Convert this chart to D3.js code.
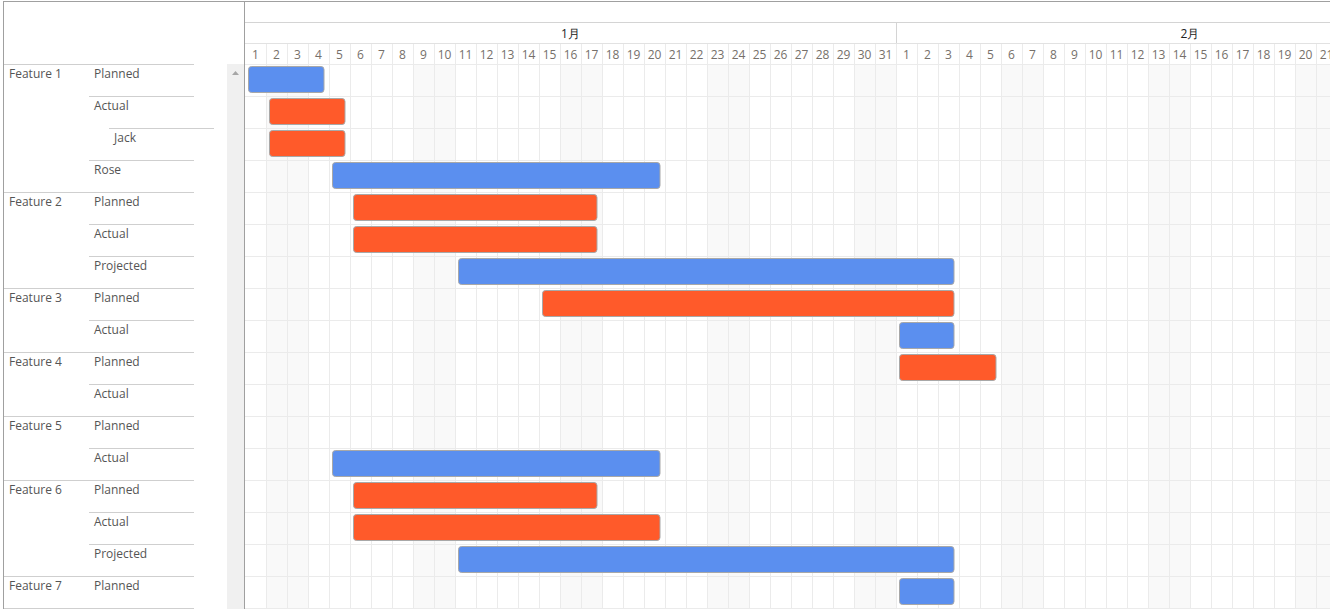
<!DOCTYPE html>
<html><head><meta charset="utf-8">
<script src="https://cdn.jsdelivr.net/npm/d3@7"></script>
<style>
html,body{margin:0;padding:0;background:#fff;overflow:hidden}
svg{display:block;font-family:"Open Sans",sans-serif}
</style></head>
<body>
<svg id="c" width="1330" height="609"></svg>
<script>
// ---- data ----
const features = ["Feature 1","","","","Feature 2","","","Feature 3","","Feature 4","","Feature 5","","Feature 6","","","Feature 7"];
const rowLabels = ["Planned","Actual","Jack","Rose","Planned","Actual","Projected","Planned","Actual","Planned","Actual","Planned","Actual","Planned","Actual","Projected","Planned"];
const rowLevel  = [1,1,2,1,1,1,1,1,1,1,1,1,1,1,1,1,1];
const barStart  = ["2021-01-01","2021-01-02","2021-01-02","2021-01-05","2021-01-06","2021-01-06","2021-01-11","2021-01-15","2021-02-01","2021-02-01",null,null,"2021-01-05","2021-01-06","2021-01-06","2021-01-11","2021-02-01"];
const barEnd    = ["2021-01-04","2021-01-05","2021-01-05","2021-01-20","2021-01-17","2021-01-17","2021-02-03","2021-02-03","2021-02-03","2021-02-05",null,null,"2021-01-20","2021-01-17","2021-01-20","2021-02-03","2021-02-03"];
const barKind   = ["A","B","B","A","B","B","A","B","A","B",null,null,"A","B","B","A","A"];
const months    = ["1月","2月"];
const timeStart = "2021-01-01", timeEnd = "2021-02-23";

// ---- layout ----
const svg = d3.select("#c");
const W = 1330, H = 609;
const gridX = 245, rowTop = 64, rowH = 32, dayW = 21;
const parse = d3.utcParse("%Y-%m-%d");
const t0 = parse(timeStart), t1 = parse(timeEnd);
const nDays = d3.utcDay.count(t0, t1);
const x = d3.scaleUtc().domain([t0, t1]).range([gridX, gridX + nDays*dayW]);
const y = d3.scaleBand().domain(d3.range(rowLabels.length)).range([rowTop, rowTop + rowLabels.length*rowH]);
const color = d3.scaleOrdinal().domain(["A","B"]).range(["#5b8fef","#ff5a2a"]);
const days = d3.utcDay.range(t0, t1);
const monthStarts = d3.utcMonth.range(t0, t1);

// weekend shading
svg.append("g").selectAll("rect").data(days.filter(d => d.getUTCDay()===0 || d.getUTCDay()===6))
  .join("rect")
  .attr("x", d => x(d)).attr("y", rowTop)
  .attr("width", d => x(d3.utcDay.offset(d,1)) - x(d)).attr("height", H - rowTop)
  .attr("fill", "#f9f9f9");

// grid vertical lines
svg.append("g").selectAll("line").data(days.slice(1)).join("line")
  .attr("x1", d => Math.round(x(d))+0.5).attr("x2", d => Math.round(x(d))+0.5)
  .attr("y1", 43).attr("y2", H)
  .attr("stroke", "#ebebeb");

// grid horizontal lines
svg.append("g").selectAll("line").data(d3.range(rowLabels.length+1)).join("line")
  .attr("x1", gridX).attr("x2", W)
  .attr("y1", i => rowTop + i*rowH + 0.5).attr("y2", i => rowTop + i*rowH + 0.5)
  .attr("stroke", "#ebebeb");

// header lines
svg.append("line").attr("x1", gridX).attr("x2", W).attr("y1", 22.5).attr("y2", 22.5).attr("stroke", "#d4d4d4");
svg.append("line").attr("x1", gridX).attr("x2", W).attr("y1", 43.5).attr("y2", 43.5).attr("stroke", "#e2e2e2");
svg.append("g").selectAll("line").data(monthStarts.slice(1)).join("line")
  .attr("x1", d => Math.round(x(d))+0.5).attr("x2", d => Math.round(x(d))+0.5)
  .attr("y1", 22).attr("y2", 43).attr("stroke", "#d4d4d4");

// day labels
svg.append("g").selectAll("text").data(days).join("text")
  .attr("x", d => (x(d) + x(d3.utcDay.offset(d,1)))/2)
  .attr("y", 59)
  .attr("text-anchor", "middle")
  .attr("font-size", 12)
  .attr("fill", "#76706a")
  .text(d => d.getUTCDate());

// month labels
svg.append("g").selectAll("text").data(monthStarts).join("text")
  .attr("x", (d,i) => (x(d) + x(d3.utcMonth.offset(d,1)))/2)
  .attr("y", 38)
  .attr("text-anchor", "middle")
  .attr("font-size", 12)
  .attr("fill", "#222")
  .text((d,i) => months[i]);

// bars
const barIdx = d3.range(rowLabels.length).filter(i => barStart[i]);
svg.append("g").selectAll("rect").data(barIdx).join("rect")
  .attr("x", i => x(parse(barStart[i])) + 3.5)
  .attr("y", i => y(i) + 2.5)
  .attr("width", i => x(d3.utcDay.offset(parse(barEnd[i]),1)) - 5 - (x(parse(barStart[i])) + 3.5))
  .attr("height", 26)
  .attr("rx", 3)
  .attr("fill", i => color(barKind[i]))
  .attr("stroke", "#a8a8a8")
  .attr("stroke-width", 1);

// left panel
svg.append("rect").attr("x", 0).attr("y", 0).attr("width", gridX).attr("height", H).attr("fill", "#fff");
svg.append("rect").attr("x", 227).attr("y", rowTop).attr("width", 17).attr("height", H - rowTop).attr("fill", "#f0f0f0");
svg.append("path").attr("d", "M232,75 L239,75 L235.5,71 Z").attr("fill", "#a6a6a6");

// left row lines
const lineSpan = i => features[i] ? [3, 194] : (rowLevel[i] === 2 ? [109, 214] : [89, 194]);
svg.append("g").selectAll("line").data(d3.range(rowLabels.length)).join("line")
  .attr("x1", i => lineSpan(i)[0]).attr("x2", i => lineSpan(i)[1])
  .attr("y1", i => y(i) + 0.5).attr("y2", i => y(i) + 0.5)
  .attr("stroke", "#cfcfcf");
svg.append("line").attr("x1", 3).attr("x2", 194).attr("y1", H - 0.5).attr("y2", H - 0.5).attr("stroke", "#cfcfcf");

// feature labels
svg.append("g").selectAll("text").data(d3.range(rowLabels.length).filter(i => features[i])).join("text")
  .attr("x", 9).attr("y", i => y(i) + 14)
  .attr("font-size", 12).attr("fill", "#555")
  .text(i => features[i]);

// row labels
svg.append("g").selectAll("text").data(d3.range(rowLabels.length)).join("text")
  .attr("x", i => rowLevel[i] === 2 ? 114 : 94).attr("y", i => y(i) + 14)
  .attr("font-size", 12).attr("fill", "#555")
  .text(i => rowLabels[i]);

// outer borders
svg.append("line").attr("x1", 3).attr("x2", W).attr("y1", 1.5).attr("y2", 1.5).attr("stroke", "#a0a0a0");
svg.append("line").attr("x1", 3.5).attr("x2", 3.5).attr("y1", 1).attr("y2", H).attr("stroke", "#a0a0a0");
svg.append("line").attr("x1", 244.5).attr("x2", 244.5).attr("y1", 1).attr("y2", H).attr("stroke", "#a0a0a0");
</script>
</body></html>
